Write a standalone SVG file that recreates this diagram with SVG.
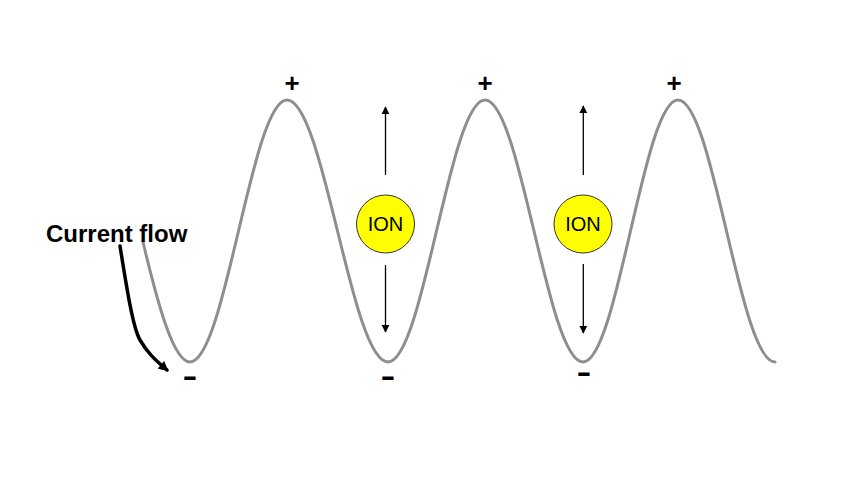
<svg xmlns="http://www.w3.org/2000/svg" width="853" height="484" viewBox="0 0 853 484">
  <defs>
    <style>
      .wave { fill: none; stroke: #8e8e8e; stroke-width: 3; stroke-linecap: round; }
      .ion circle { fill: #ffff00; stroke: #333333; stroke-width: 1; }
      .ion text { font-family: "Liberation Sans", Arial, sans-serif; font-size: 20px; fill: #000; text-anchor: middle; }
      .plus { font-family: "Liberation Sans", Arial, sans-serif; font-size: 26px; font-weight: bold; fill: #000; text-anchor: middle; }
      .minus { font-family: "Liberation Sans", Arial, sans-serif; font-size: 46px; fill: #000; text-anchor: middle; }
      .label { font-family: "Liberation Sans", Arial, sans-serif; font-size: 24px; font-weight: bold; fill: #000; }
      .vline { stroke: #000; stroke-width: 1.3; fill: none; }
      .flow { stroke: #000; stroke-width: 3.5; fill: none; stroke-linecap: round; }
    </style>
    <marker id="ah" viewBox="0 0 10 10" refX="9" refY="5" markerWidth="8" markerHeight="9" markerUnits="userSpaceOnUse" orient="auto">
      <path d="M0,0 L10,5 L0,10 Z" fill="#000"/>
    </marker>
    <marker id="ah2" viewBox="0 0 10 10" refX="8" refY="5" markerWidth="11" markerHeight="10" markerUnits="userSpaceOnUse" orient="auto">
      <path d="M0,0 L10,5 L0,10 Z" fill="#000"/>
    </marker>
  </defs>
  <rect width="853" height="484" fill="#ffffff"/>

  <g id="wave">
    <path class="wave" d="M143,242 C158.4,306.8 173.8,362 190,362 C225.3,362 251.7,100 287,100 C323.8,100 351.2,362 388,362 C423.3,362 449.7,100 485,100 C520.7,100 547.3,362 583,362 C617.6,362 643.4,100 678,100 C713.3,100 739.7,362 775,362"/>
  </g>

  <g id="signs">
    <text class="plus" x="292" y="92">+</text>
    <text class="plus" x="485" y="92">+</text>
    <text class="plus" x="674" y="92">+</text>
    <text class="minus" x="190" y="391">-</text>
    <text class="minus" x="388" y="391">-</text>
    <text class="minus" x="584" y="387">-</text>
  </g>

  <g id="ion1" class="ion">
    <circle cx="385.5" cy="224" r="29"/>
    <text x="385.5" y="231">ION</text>
  </g>
  <g id="ion2" class="ion">
    <circle cx="583" cy="224" r="29"/>
    <text x="583" y="231">ION</text>
  </g>

  <g id="current-flow-label">
    <text class="label" x="46" y="242">Current flow</text>
  </g>

  <g id="connectors">
    <line class="vline" x1="385.5" y1="175" x2="385.5" y2="107" marker-end="url(#ah)"/>
    <line class="vline" x1="385.5" y1="265" x2="385.5" y2="332" marker-end="url(#ah)"/>
    <line class="vline" x1="583.3" y1="175" x2="583.3" y2="106" marker-end="url(#ah)"/>
    <line class="vline" x1="583.3" y1="264" x2="583.3" y2="333" marker-end="url(#ah)"/>
    <path class="flow" d="M120,246 C127,290 133,328 140,340 C147,352 154,359 167,370" marker-end="url(#ah2)"/>
  </g>
</svg>
